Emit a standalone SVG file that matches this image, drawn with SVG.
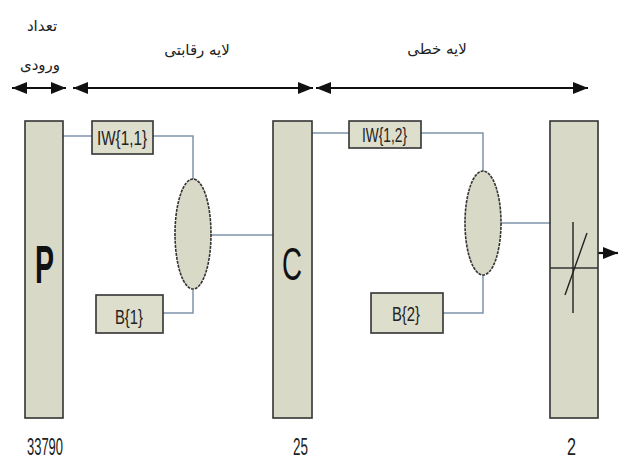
<svg xmlns="http://www.w3.org/2000/svg" width="618" height="462" viewBox="0 0 618 462">
<defs>
<style>
.node{fill:#d9d9c8;stroke:#333;stroke-width:1.6}
.box{fill:#dedecd;stroke:#333;stroke-width:1.6}
.sum{fill:#d9d9c8;stroke:#333;stroke-width:1.6;stroke-dasharray:3 1}
.wire{fill:none;stroke:#7d94ab;stroke-width:1.5}
.dim{fill:none;stroke:#111;stroke-width:2.2}
.lbl{font-family:"Liberation Sans",Arial,sans-serif;font-size:20px;fill:#222}
.num{font-family:"Liberation Sans",Arial,sans-serif;font-size:24px;fill:#222}
.big{font-family:"Liberation Sans",Arial,sans-serif;fill:#111}
.fa{font-family:"DejaVu Sans","Noto Sans",sans-serif;font-size:15px;fill:#222;text-anchor:middle}
</style>
<marker id="ah" viewBox="0 0 10 8" refX="10" refY="4" markerWidth="7" markerHeight="5.6" orient="auto-start-reverse" markerUnits="strokeWidth">
<path d="M0,0 L10,4 L0,8 z" fill="#111"/>
</marker>
</defs>
<rect width="618" height="462" fill="#fff"/>

<g id="labels">
<text class="fa" x="42" y="31">تعداد</text>
<text class="fa" x="40" y="70" font-size="17">ورودی</text>
<text class="fa" x="197" y="55" font-size="17">لایه رقابتی</text>
<text class="fa" x="437" y="54" font-size="16.5">لایه خطی</text>
</g>

<g id="connectors">
<line class="dim" x1="12" y1="88" x2="66" y2="88" marker-start="url(#ah)" marker-end="url(#ah)"/>
<line class="dim" x1="73" y1="88" x2="313" y2="88" marker-start="url(#ah)" marker-end="url(#ah)"/>
<line class="dim" x1="316" y1="88" x2="588" y2="88" marker-start="url(#ah)" marker-end="url(#ah)"/>
<path class="wire" d="M63,136 H92"/>
<path class="wire" d="M153,136 H193 V179"/>
<path class="wire" d="M211,235 H273"/>
<path class="wire" d="M193,290 V313 H163"/>
<path class="wire" d="M312,133 H349"/>
<path class="wire" d="M421,133 H483 V171"/>
<path class="wire" d="M501,223 H550"/>
<path class="wire" d="M483,275 V313 H443"/>
<line class="dim" x1="598" y1="253" x2="618" y2="253" stroke-width="2" marker-end="url(#ah)"/>
</g>

<g id="node-P">
<rect class="node" x="25" y="121" width="38" height="297"/>
<text class="big" x="35" y="283" font-size="54" font-weight="bold" textLength="19" lengthAdjust="spacingAndGlyphs">P</text>
<text class="num" x="27" y="455" textLength="36" lengthAdjust="spacingAndGlyphs">33790</text>
</g>

<g id="node-IW11">
<rect class="box" x="92" y="121" width="61" height="33"/>
<text class="lbl" x="97" y="145" textLength="50" lengthAdjust="spacingAndGlyphs">IW{1,1}</text>
</g>

<g id="node-sum1">
<ellipse class="sum" cx="193" cy="234" rx="18" ry="55"/>
</g>

<g id="node-B1">
<rect class="box" x="96" y="295" width="67" height="38"/>
<text class="lbl" x="115" y="324" textLength="28" lengthAdjust="spacingAndGlyphs">B{1}</text>
</g>

<g id="node-C">
<rect class="node" x="273" y="121" width="39" height="297"/>
<text class="big" x="282" y="280" font-size="46" textLength="20" lengthAdjust="spacingAndGlyphs">C</text>
<text class="num" x="293" y="455" textLength="15" lengthAdjust="spacingAndGlyphs">25</text>
</g>

<g id="node-IW12">
<rect class="box" x="349" y="121" width="72" height="27"/>
<text class="lbl" x="362" y="142" font-size="19" textLength="45" lengthAdjust="spacingAndGlyphs">IW{1,2}</text>
</g>

<g id="node-sum2">
<ellipse class="sum" cx="483" cy="223" rx="18" ry="52"/>
</g>

<g id="node-B2">
<rect class="box" x="371" y="293" width="72" height="40"/>
<text class="lbl" x="392" y="321" textLength="28" lengthAdjust="spacingAndGlyphs">B{2}</text>
</g>

<g id="node-out">
<rect class="node" x="550" y="121" width="48" height="297"/>
<line x1="550" y1="268" x2="598" y2="268" stroke="#333" stroke-width="1.6"/>
<line x1="573" y1="222" x2="573" y2="313" stroke="#222" stroke-width="1.4"/>
<line x1="565" y1="295" x2="587" y2="233" stroke="#222" stroke-width="1.4"/>
<text class="num" x="567" y="455" textLength="9" lengthAdjust="spacingAndGlyphs">2</text>
</g>
</svg>
